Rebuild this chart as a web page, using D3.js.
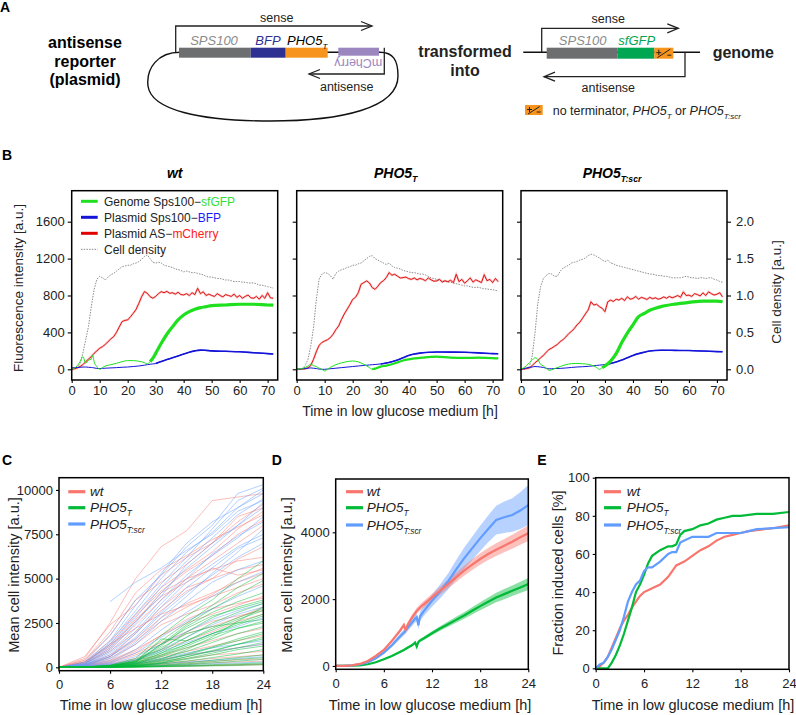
<!DOCTYPE html>
<html><head><meta charset="utf-8">
<script src="https://cdn.jsdelivr.net/npm/d3@7"></script>
<style>body{margin:0;background:#fff} svg{display:block} text{font-family:"Liberation Sans",Arial,sans-serif}</style>
</head><body><svg id="c" width="796" height="715"></svg>
<script>
// ---------------- DATA ----------------
// Panel B (time in h, hourly for noisy series; key times for smooth)
const hoursB = d3.range(0, 73);
const tKey = [0,2,3,4,5,6,7,7.5,8,9,10,11,12,14,16,18,20,22,24,26,27,28,29,30,32,34,36,38,40,42,44,46,48,50,55,60,65,70,72];
const strainsB = ["wt", "PHO5_T", "PHO5_T:scr"];
const mCherryWt = [0,5,15,30,50,83,110,137,173,200,228,245,270,300,330,354,400,460,517,530,535,570,607,650,715,788,842,824,788,770,790,820,842,830,845,824,830,815,835,810,806,820,800,830,810,878,820,840,800,815,800,790,820,800,785,810,800,790,815,780,800,770,790,805,775,770,790,760,800,770,830,775,770];
const mCherryPho5 = [0,2,3,5,15,40,108,190,260,290,307,320,343,380,430,470,540,600,650,700,758,780,830,921,940,958,935,885,867,900,940,960,994,1048,1020,1030,1010,990,994,1000,983,975,990,970,985,976,960,990,970,955,958,975,945,960,950,965,940,1030,950,975,933,960,990,945,970,955,940,1025,960,975,940,985,950];
const mCherryScr = [0,3,8,15,40,71,95,125,150,185,214,230,250,270,300,321,350,385,411,440,482,510,554,600,643,732,696,705,679,661,625,732,750,735,760,750,770,745,786,760,768,790,760,780,770,757,780,765,775,760,768,785,770,790,775,786,800,780,839,800,804,790,820,810,795,829,800,840,820,805,814,830,786];
const densityWt = [0,0.01,0.02,0.08,0.22,0.40,0.58,0.85,1.08,1.22,1.26,1.24,1.21,1.25,1.28,1.30,1.33,1.36,1.39,1.40,1.41,1.41,1.43,1.44,1.46,1.49,1.53,1.55,1.50,1.45,1.44,1.45,1.44,1.41,1.40,1.39,1.38,1.36,1.35,1.34,1.32,1.33,1.32,1.31,1.31,1.30,1.29,1.28,1.26,1.25,1.25,1.24,1.23,1.23,1.22,1.21,1.21,1.20,1.19,1.19,1.19,1.18,1.18,1.17,1.17,1.17,1.16,1.14,1.14,1.13,1.12,1.11,1.10];
const densityPho5 = [0,0,0.01,0.05,0.13,0.31,0.56,0.94,1.22,1.29,1.31,1.30,1.27,1.22,1.30,1.33,1.35,1.36,1.38,1.39,1.41,1.41,1.43,1.44,1.47,1.50,1.53,1.54,1.50,1.48,1.46,1.44,1.42,1.44,1.40,1.38,1.37,1.36,1.34,1.33,1.32,1.31,1.31,1.30,1.29,1.29,1.28,1.26,1.24,1.23,1.22,1.21,1.20,1.19,1.18,1.18,1.17,1.16,1.15,1.14,1.13,1.13,1.12,1.11,1.11,1.11,1.10,1.09,1.09,1.08,1.08,1.07,1.06];
const densityScr = [0,0,0.01,0.04,0.18,0.49,0.89,1.12,1.23,1.27,1.30,1.29,1.26,1.26,1.33,1.37,1.39,1.41,1.44,1.45,1.46,1.48,1.49,1.51,1.54,1.56,1.55,1.53,1.51,1.48,1.46,1.48,1.44,1.43,1.41,1.40,1.39,1.38,1.37,1.36,1.35,1.34,1.33,1.32,1.31,1.30,1.29,1.29,1.28,1.27,1.27,1.26,1.26,1.25,1.24,1.24,1.24,1.24,1.25,1.26,1.25,1.24,1.24,1.23,1.24,1.24,1.23,1.24,1.24,1.22,1.21,1.19,1.18];
const sfgfpWt = [0,40,83,137,65,100,110,155,83,29,0,20,36,50,65,83,94,94,87,72,58,83,120,173,282,380,460,535,589,625,650,668,679,690,697,705,705,697,695];
const sfgfpPho5 = [0,10,20,35,54,40,29,20,12,0,-18,0,20,50,70,83,90,80,54,18,0,7,18,29,40,55,75,95,108,118,124,130,134,137,126,123,126,122,118];
const sfgfpScr = [0,40,71,100,125,107,54,45,36,10,-11,-5,7,30,50,61,64,60,54,36,20,0,18,36,89,170,290,393,482,571,605,640,661,679,707,725,739,739,732];
const bfpWt = [15,20,22,24,25,22,20,18,15,10,8,10,12,15,18,22,25,30,36,45,50,55,58,62,85,105,125,145,165,185,200,208,205,200,195,190,180,170,165];
const bfpPho5 = [0,5,8,12,15,12,8,5,3,0,0,3,6,12,18,24,30,36,42,47,50,52,55,58,68,82,100,125,150,165,175,182,185,187,186,184,178,170,168];
const bfpScr = [0,15,20,25,30,28,25,22,20,12,5,6,8,10,14,20,25,28,32,38,42,45,48,50,62,80,100,125,150,170,185,198,204,207,205,203,198,192,190];
const sfgfpInductionStart = [28, 27, 29];
const fluorTicks = [0, 400, 800, 1200, 1600];
const densityTicks = [0, 0.5, 1.0, 1.5, 2.0];
const timeTicksB = [0, 10, 20, 30, 40, 50, 60, 70];

// Panel C: single-cell traces
const hoursC = [0, 3, 6, 9, 12, 15, 18, 21, 24];
const cellsWt = [
  [0,500,2500,5000,6800,7700,9400,9600,9800],
  [0,400,1800,3800,4800,5800,7000,8500,9000],
  [0,300,1500,3000,4500,5500,6500,7800,8800],
  [0,300,1200,2600,4200,5000,6000,7000,8000],
  [0,200,1000,2400,3800,5000,5500,6000,6200],
  [0,200,900,2000,3200,4300,5000,5500,5800],
  [0,150,700,1600,2800,3600,4200,4800,5300],
  [0,100,500,1300,2400,3000,3500,4200,4700],
  [0,100,400,1000,1800,2500,3000,3500,4000],
  [0,80,300,800,1400,2000,2600,2900,3200],
  [0,50,200,500,1000,1500,2000,2600,3000],
  [0,50,150,400,700,1100,1500,1900,2200],
  [0,40,100,250,450,700,900,1100,1300],
  [0,30,80,150,250,350,500,600,700],
  [0,20,50,100,150,200,250,300,350],
  [0,10,30,60,80,100,120,150,180],
  [0,600,2400,3500,5200,6200,7000,8200,9200],
  [0,200,1100,2700,4000,4800,5600,5200,5500],
  [0,300,1300,2200,3000,3500,4000,4500,5000],
  [0,100,600,1900,3400,4500,5000,6100,6800],
  [0,60,250,700,1300,1900,2300,2800,3400],
  [0,20,60,120,200,280,350,420,480],
  [0,40,120,300,600,900,1200,1500,1800],
  [0,150,600,1500,2600,3400,4100,5000,5600],
  [0,250,1300,2900,4300,5400,6300,7500,8300],
  [0,400,2000,4200,5500,6300,7200,7900,8600],
  [0,30,90,200,350,500,700,800,900],
  [0,100,350,900,1800,2700,3300,3600,3900],
  [0,10,20,40,60,80,100,120,150]
];
const cellsPho5 = [
  [0,20,100,400,1500,2500,3500,4500,5300],
  [0,20,100,350,1200,2300,3100,3700,4200],
  [0,15,80,300,1000,2000,2800,3400,3800],
  [0,10,70,250,900,1700,2500,3100,3600],
  [0,10,60,200,800,1500,2200,2800,3300],
  [0,10,50,180,700,1300,1900,2500,3000],
  [0,10,40,150,600,1100,1600,2200,2600],
  [0,5,30,120,500,900,1400,1900,2300],
  [0,5,30,100,400,750,1150,1600,2000],
  [0,5,20,80,300,600,900,1300,1600],
  [0,5,20,60,250,450,700,1000,1200],
  [0,5,15,50,180,350,550,750,1000],
  [0,5,10,40,120,250,400,550,700],
  [0,0,10,30,80,150,250,350,450],
  [0,0,5,20,50,100,150,200,250],
  [0,0,5,10,30,50,80,100,150],
  [0,20,120,500,1800,2900,3800,5000,6000],
  [0,10,80,300,1600,1500,2100,2700,3200],
  [0,15,90,320,1100,1900,2300,2500,2700],
  [0,8,40,140,450,1000,1700,2600,3400],
  [0,12,70,260,1300,2200,2900,3300,3700],
  [0,5,25,90,350,700,1100,1500,1900],
  [0,5,15,60,220,500,800,1100,1400],
  [0,3,10,30,90,200,320,450,550],
  [0,10,60,220,800,1300,1900,2400,2900],
  [0,15,90,350,1300,2400,3300,4100,4900],
  [0,2,8,20,40,70,110,150,200],
  [0,8,50,180,650,1200,1800,2200,2500],
  [0,4,20,70,250,600,950,1300,1700]
];
const cellsScr = [
  [null,null,3700,4800,5600,6600,7500,8800,9400],
  [0,300,1800,3800,5200,6800,8000,9800,10300],
  [0,200,1400,3200,5000,6500,7600,9000,10000],
  [0,200,1200,2800,4500,6000,7300,8600,9500],
  [0,150,1000,2500,4200,5600,6800,8000,9300],
  [0,100,900,2200,3800,5200,6300,7300,8500],
  [0,100,700,1900,3400,4800,5800,6800,7500],
  [0,80,600,1600,3000,4200,5200,6200,7000],
  [0,60,400,1300,2600,3700,4800,5500,6000],
  [0,50,300,1000,2100,3100,4000,4800,5400],
  [0,40,250,800,1700,2600,3300,4000,4600],
  [0,30,200,600,1300,2000,2700,3200,3600],
  [0,20,150,400,900,1400,1900,2300,2800],
  [0,20,100,250,500,800,1100,1300,1500],
  [0,10,50,100,200,300,400,500,600],
  [0,250,1500,3500,5300,7000,8200,9000,9800],
  [0,150,1100,2600,4000,5800,7000,8000,9000],
  [0,10,30,60,100,150,200,250,300],
  [0,120,800,2000,3600,5000,6400,7400,8200],
  [0,70,500,1400,2800,4000,5300,6500,7800],
  [0,30,150,450,1000,1700,2400,3000,3400],
  [0,200,1300,3000,4700,6200,7800,9400,10100],
  [0,15,80,200,400,700,900,1100,1300],
  [0,90,600,1700,3100,4500,5600,6700,7300]
];
const intensityTicksC = [0, 2500, 5000, 7500, 10000];
const timeTicksCDE = [0, 6, 12, 18, 24];

// Panel D: mean intensity with error bands
const hoursD = [0,1,2,3,4,5,6,7,8,8.5,8.7,9,9.5,9.9,10.1,10.3,10.5,11,12,13,14,15,16,17,18,19,20,21,22,23,24];
const meanWt = [0,5,20,60,150,300,480,750,1050,1226,1077,1250,1450,1580,1650,1700,1750,1850,2050,2250,2450,2650,2850,3030,3200,3350,3480,3600,3720,3850,3970];
const meanPho5 = [0,2,8,20,50,110,200,300,420,480,510,550,620,700,580,720,760,830,980,1120,1250,1380,1510,1650,1790,1920,2050,2150,2250,2350,2450];
const meanScr = [0,5,15,45,110,230,400,620,880,1000,1060,1150,1300,1420,1460,1220,1480,1650,1950,2230,2530,2880,3220,3520,3819,4100,4367,4450,4516,4650,4816];
const errWt = [0,2,5,10,20,30,40,50,60,65,65,70,80,90,90,90,95,100,110,120,130,140,150,160,170,180,190,200,210,220,230];
const errPho5 = [0,2,4,6,10,15,20,25,30,32,33,35,38,40,42,45,48,50,60,70,80,90,100,110,120,130,140,150,160,170,180];
const errScr = [0,3,6,12,20,30,45,60,80,90,95,100,110,120,125,130,135,150,180,210,240,280,320,350,380,400,430,470,500,550,600];
const intensityTicksD = [0, 2000, 4000];

// Panel E: fraction induced cells
const hoursE = [0,0.5,1,1.5,2,2.5,3,3.5,4,4.5,5,5.5,6,6.5,7,8,9,9.5,10,10.5,11,12,13,14,15,16,17,18,19,20,22,24];
const inducedWt = [0,1,3,6,11,16,21,25,28,32,35,38,40,41,42,44,48,51,54,55,56,59,62,64,67,69,70,71,72,72.5,73.5,75];
const inducedPho5 = [0,0,0,0,3,7,12,18,25,32,40,44,49,55,59,62,64,64,65,70,72,73,75,76,78,79,80,80,80.5,81,81,82];
const inducedScr = [0,2,3,6,10,15,20,27,35,40,44,46,51,53,53,56,60,61,61,66,67,69,69,69,71,71,71,71,72,73,73.5,74];
const fractionTicks = [0, 20, 40, 60, 80, 100];

// ---------------- DRAW ----------------
const svg = d3.select("#c");
const FONT = '"Liberation Sans",Arial,sans-serif';
const colB = {green:"#1ee01e", blue:"#1414d8", red:"#e00000", gray:"#8c8c8c"};
const colS = {wt:"#F8766D", pho5:"#00BA38", scr:"#619CFF"};

function txt(g, x, y, s, o = {}) {
  const t = g.append("text").attr("x", x).attr("y", y).text(s)
    .attr("font-size", o.size || 13).attr("fill", o.fill || "#000")
    .attr("text-anchor", o.anchor || "start");
  if (o.weight) t.attr("font-weight", o.weight);
  if (o.italic) t.attr("font-style", "italic");
  if (o.transform) t.attr("transform", o.transform);
  return t;
}
function pho(g, x, y, sub, o = {}) {
  const t = g.append("text").attr("x", x).attr("y", y)
    .attr("font-size", o.size || 13).attr("fill", o.fill || "#000")
    .attr("text-anchor", o.anchor || "start").attr("font-style", "italic");
  if (o.weight) t.attr("font-weight", o.weight);
  t.append("tspan").text("PHO5");
  t.append("tspan").text(sub).attr("font-size", (o.size || 13) * 0.62).attr("dy", (o.size || 13) * 0.3);
  return t;
}
function styleAxis(g, fs) {
  g.select(".domain").remove();
  g.selectAll("line").attr("stroke", "#000").attr("stroke-width", 1.1);
  g.selectAll("text").attr("font-size", fs || 13).attr("fill", "#222").attr("font-family", FONT);
}

// ===== Panel A =====
const A = svg.append("g");
txt(A, 0, 12, "A", {size: 14, weight: "bold"});
["antisense", "reporter", "(plasmid)"].forEach((s, i) => txt(A, 85, 48 + i * 18.5, s, {size: 16, weight: "bold", anchor: "middle"}));
A.append("path").attr("d", "M180,52.3 C158,52.3 146,68 148,86 C151,110 200,121 270,121 C342,121 398,108 398,76 C398,60 393,52.3 380,52.3 L327,52.3")
  .attr("fill", "none").attr("stroke", "#111").attr("stroke-width", 1.4);
A.append("rect").attr("x", 179).attr("y", 47.7).attr("width", 71.7).attr("height", 10).attr("fill", "#6d6e70");
A.append("rect").attr("x", 250.7).attr("y", 47.7).attr("width", 35).attr("height", 10).attr("fill", "#2e3192");
A.append("rect").attr("x", 285.7).attr("y", 47.7).attr("width", 42).attr("height", 10).attr("fill", "#f7941d");
A.append("rect").attr("x", 338.3).attr("y", 47.7).attr("width", 40.7).attr("height", 8).attr("fill", "#9b86c0");
A.append("path").attr("d", "M175.7,52.3 V26 H372").attr("fill", "none").attr("stroke", "#222").attr("stroke-width", 1.3);
A.append("path").attr("d", "M361,21.5 L372,26 L361,30.5").attr("fill", "none").attr("stroke", "#222").attr("stroke-width", 1.3);
A.append("path").attr("d", "M384.3,47.7 V74 H309").attr("fill", "none").attr("stroke", "#222").attr("stroke-width", 1.3);
A.append("path").attr("d", "M320,69.5 L309,74 L320,78.5").attr("fill", "none").attr("stroke", "#222").attr("stroke-width", 1.3);
txt(A, 276.7, 22, "sense", {size: 12.5, anchor: "middle", fill: "#222"});
txt(A, 346.7, 91, "antisense", {size: 12.5, anchor: "middle", fill: "#222"});
txt(A, 214, 45, "SPS100", {size: 13, anchor: "middle", fill: "#8a8a8a", italic: true});
txt(A, 268, 45, "BFP", {size: 13, anchor: "middle", fill: "#2e3192", italic: true});
pho(A, 287, 45, "T", {size: 13});
txt(A, 358.3, 63, "mCherry", {size: 12.5, anchor: "middle", fill: "#9b86c0", transform: "rotate(180,358.3,63) translate(0,4)"});
txt(A, 465, 57, "transformed", {size: 16, weight: "bold", anchor: "middle", fill: "#222"});
txt(A, 465, 76, "into", {size: 16, weight: "bold", anchor: "middle", fill: "#222"});
A.append("line").attr("x1", 523.3).attr("x2", 700).attr("y1", 52.3).attr("y2", 52.3).attr("stroke", "#111").attr("stroke-width", 1.4);
A.append("rect").attr("x", 546.7).attr("y", 47.7).attr("width", 71).attr("height", 11).attr("fill", "#6d6e70");
A.append("rect").attr("x", 617.7).attr("y", 47.7).attr("width", 36.6).attr("height", 11).attr("fill", "#00a651");
A.append("rect").attr("x", 654.3).attr("y", 47.7).attr("width", 19).attr("height", 11).attr("fill", "#f7941d");
function termSym(g, x, y, w, h) {
  g.append("path").attr("d", `M${x+2},${y+h/2-0.5} H${x+7} M${x+4.5},${y+2} V${y+h/2+2} M${x+w-6},${y+h/2+2} H${x+w-2} M${x+3},${y+h-1} L${x+w-3},${y+1.5}`)
    .attr("stroke", "#222").attr("stroke-width", 1).attr("fill", "none");
}
termSym(A, 654.3, 47.7, 19, 11);
A.append("path").attr("d", "M541.7,52.3 V28.3 H678.3").attr("fill", "none").attr("stroke", "#222").attr("stroke-width", 1.3);
A.append("path").attr("d", "M667.3,23.8 L678.3,28.3 L667.3,32.8").attr("fill", "none").attr("stroke", "#222").attr("stroke-width", 1.3);
A.append("path").attr("d", "M685,52.3 V76.7 H544").attr("fill", "none").attr("stroke", "#222").attr("stroke-width", 1.3);
A.append("path").attr("d", "M555,72.2 L544,76.7 L555,81.2").attr("fill", "none").attr("stroke", "#222").attr("stroke-width", 1.3);
txt(A, 608.3, 23, "sense", {size: 12.5, anchor: "middle", fill: "#222"});
txt(A, 608.3, 92, "antisense", {size: 12.5, anchor: "middle", fill: "#222"});
txt(A, 582.7, 45, "SPS100", {size: 13, anchor: "middle", fill: "#8a8a8a", italic: true});
txt(A, 636.7, 45, "sfGFP", {size: 13, anchor: "middle", fill: "#00a651", italic: true});
txt(A, 743.3, 58, "genome", {size: 16, weight: "bold", anchor: "middle", fill: "#222"});
A.append("rect").attr("x", 525).attr("y", 105).attr("width", 17.7).attr("height", 10).attr("fill", "#f7941d");
termSym(A, 525, 105, 17.7, 10);
{
  const t = A.append("text").attr("x", 552.7).attr("y", 115).attr("font-size", 12.5).attr("fill", "#222");
  t.append("tspan").text("no terminator, ");
  t.append("tspan").text("PHO5").attr("font-style", "italic");
  t.append("tspan").text("T").attr("font-style", "italic").attr("font-size", 8).attr("dy", 3.5);
  t.append("tspan").text(" or ").attr("dy", -3.5);
  t.append("tspan").text("PHO5").attr("font-style", "italic");
  t.append("tspan").text("T:scr").attr("font-style", "italic").attr("font-size", 8).attr("dy", 3.5);
}

// ===== Panel B =====
txt(svg, 2, 160, "B", {size: 14, weight: "bold"});
const bLeft = [71.7, 296.7, 521];
const bW = 206, bTop = 190.7, bBot = 380;
const yB = d3.scaleLinear().domain([-116, 1936]).range([bBot, bTop]);
const yDens = d3.scaleLinear().domain([-116 / 800, 1936 / 800]).range([bBot, bTop]);
const seriesB = [
  {red: mCherryWt, gray: densityWt, green: sfgfpWt, blue: bfpWt},
  {red: mCherryPho5, gray: densityPho5, green: sfgfpPho5, blue: bfpPho5},
  {red: mCherryScr, gray: densityScr, green: sfgfpScr, blue: bfpScr}
];
strainsB.forEach((st, i) => {
  const x = d3.scaleLinear().domain([0, 73.6]).range([bLeft[i], bLeft[i] + bW]);
  const g = svg.append("g");
  const clipId = "clipB" + i;
  g.append("clipPath").attr("id", clipId).append("rect").attr("x", bLeft[i]).attr("y", bTop).attr("width", bW).attr("height", bBot - bTop);
  const pg = g.append("g").attr("clip-path", `url(#${clipId})`);
  const s = seriesB[i];
  const lineH = (arr, sc) => d3.line().x((d, k) => x(hoursB[k])).y(d => sc(d))(arr);
  const lineK = d3.line().x(d => x(d[0])).y(d => yB(d[1])).curve(d3.curveMonotoneX);
  pg.append("path").attr("d", lineH(s.gray, yDens)).attr("fill", "none").attr("stroke", colB.gray).attr("stroke-width", 1).attr("stroke-dasharray", "1.5,1.2");
  pg.append("path").attr("d", lineH(s.red, yB)).attr("fill", "none").attr("stroke", "#f08080").attr("stroke-width", 2.2).attr("opacity", 0.45);
  pg.append("path").attr("d", lineH(s.red, yB)).attr("fill", "none").attr("stroke", colB.red).attr("stroke-width", 0.9);
  const bl = tKey.map((t, k) => [t, s.blue[k]]);
  pg.append("path").attr("d", lineK(bl)).attr("fill", "none").attr("stroke", colB.blue).attr("stroke-width", 1);
  pg.append("path").attr("d", lineK(bl.filter(d => d[0] >= 30))).attr("fill", "none").attr("stroke", colB.blue).attr("stroke-width", 1.6);
  const gr = tKey.map((t, k) => [t, s.green[k]]);
  pg.append("path").attr("d", lineK(gr)).attr("fill", "none").attr("stroke", colB.green).attr("stroke-width", 1);
  pg.append("path").attr("d", lineK(gr.filter(d => d[0] >= sfgfpInductionStart[i]))).attr("fill", "none").attr("stroke", colB.green).attr("stroke-width", i === 1 ? 2.2 : 3.2);
  const ax = g.append("g").attr("transform", `translate(0,${bBot})`)
    .call(d3.axisBottom(x).tickValues(timeTicksB).tickSize(3).tickPadding(3).tickFormat(d3.format("d")));
  styleAxis(ax, 13);
  const ay = g.append("g").attr("transform", `translate(${bLeft[i]},0)`)
    .call(d3.axisLeft(yB).tickValues(fluorTicks).tickSize(4).tickPadding(3).tickFormat(i === 0 ? d3.format("d") : () => ""));
  styleAxis(ay, 13);
  if (i === 2) {
    const ar = g.append("g").attr("transform", `translate(${bLeft[i] + bW},0)`)
      .call(d3.axisRight(yDens).tickValues(densityTicks).tickSize(4).tickPadding(5).tickFormat(d3.format(".1f")));
    styleAxis(ar, 13);
  }
  g.append("rect").attr("x", bLeft[i]).attr("y", bTop).attr("width", bW).attr("height", bBot - bTop)
    .attr("fill", "none").attr("stroke", "#000").attr("stroke-width", 1.5);
  const cx = bLeft[i] + bW / 2;
  if (st === "wt") txt(g, cx, 178, "wt", {size: 14, weight: "bold", italic: true, anchor: "middle"});
  else pho(g, cx - (st === "PHO5_T" ? 4 : 12), 178, st === "PHO5_T" ? "T" : "T:scr", {size: 14, weight: "bold", anchor: "middle"});
});
{
  const L = svg.append("g");
  const rows = [
    {c: colB.green, a: "Genome Sps100\u2212", b: "sfGFP"},
    {c: colB.blue, a: "Plasmid Sps100\u2212", b: "BFP"},
    {c: colB.red, a: "Plasmid AS\u2212", b: "mCherry"},
    {c: colB.gray, a: "Cell density", b: "", dash: true}
  ];
  const bcol = ["#33dd33", "#1a1aff", "#ff1a1a", ""];
  rows.forEach((r, k) => {
    const y = 201.3 + k * 16;
    L.append("line").attr("x1", 81).attr("x2", 97.7).attr("y1", y).attr("y2", y)
      .attr("stroke", r.c).attr("stroke-width", r.dash ? 1 : 3).attr("stroke-dasharray", r.dash ? "1.5,1.2" : null);
    const t = L.append("text").attr("x", 104).attr("y", y + 4.3).attr("font-size", 12).attr("fill", "#222");
    t.append("tspan").text(r.a);
    if (r.b) t.append("tspan").text(r.b).attr("fill", bcol[k]);
  });
}
txt(svg, 18.3, 288, "Fluorescence intensity [a.u.]", {size: 13.5, anchor: "middle", fill: "#222", transform: "rotate(-90,18.3,288) translate(0,4.5)"});
txt(svg, 776.7, 292, "Cell density [a.u.]", {size: 13.5, anchor: "middle", fill: "#222", transform: "rotate(-90,776.7,292) translate(0,4.5)"});
txt(svg, 400, 416, "Time in low glucose medium [h]", {size: 14, anchor: "middle", fill: "#222"});

// ===== Panels C, D, E shared helpers =====
function framePanel(g, x, y, xT, yT, yFmt) {
  const [x0, x1] = x.range(), [y0, y1] = y.range();
  const ax = g.append("g").attr("transform", `translate(0,${y0})`)
    .call(d3.axisBottom(x).tickValues(xT).tickSize(3).tickPadding(6).tickFormat(d3.format("d")));
  styleAxis(ax, 13);
  const ay = g.append("g").attr("transform", `translate(${x0},0)`)
    .call(d3.axisLeft(y).tickValues(yT).tickSize(3).tickPadding(3).tickFormat(yFmt || d3.format("d")));
  styleAxis(ay, 13);
  g.append("rect").attr("x", x0).attr("y", y1).attr("width", x1 - x0).attr("height", y0 - y1)
    .attr("fill", "none").attr("stroke", "#000").attr("stroke-width", 1.5);
}
function clip(g, id, x, y) {
  const [x0, x1] = x.range(), [y0, y1] = y.range();
  g.append("clipPath").attr("id", id).append("rect").attr("x", x0).attr("y", y1).attr("width", x1 - x0).attr("height", y0 - y1);
  return g.append("g").attr("clip-path", `url(#${id})`);
}
function legendCDE(g, x1, xText, ys) {
  const items = [{c: colS.wt, l: "wt"}, {c: colS.pho5, l: "T"}, {c: colS.scr, l: "T:scr"}];
  items.forEach((it, k) => {
    g.append("line").attr("x1", x1).attr("x2", x1 + 17).attr("y1", ys[k]).attr("y2", ys[k]).attr("stroke", it.c).attr("stroke-width", 3.2);
    if (k === 0) txt(g, xText, ys[k] + 4.5, "wt", {size: 13.5, italic: true, fill: "#222"});
    else pho(g, xText, ys[k] + 4.5, it.l, {size: 13.5, fill: "#222"});
  });
}
const titleX = "Time in low glucose medium [h]";

// ===== Panel C =====
{
  const g = svg.append("g");
  txt(g, 2, 465, "C", {size: 14, weight: "bold"});
  const x = d3.scaleLinear().domain([0, 24]).range([59, 263.3]);
  const y = d3.scaleLinear().domain([-190, 10690]).range([670.7, 477.7]);
  const pg = clip(g, "clipC", x, y);
  const ln = d3.line().defined(d => d[1] !== null).x(d => x(d[0])).y(d => y(d[1]));
  [[cellsWt, colS.wt], [cellsScr, colS.scr], [cellsPho5, colS.pho5]].forEach(([set, c]) => {
    set.forEach(tr => {
      pg.append("path").attr("d", ln(hoursC.map((t, k) => [t, tr[k]]))).attr("fill", "none")
        .attr("stroke", c).attr("stroke-width", 0.8).attr("opacity", 0.6);
    });
  });
  framePanel(g, x, y, timeTicksCDE, intensityTicksC);
  legendCDE(g, 68.3, 90, [491.7, 507.7, 524]);
  txt(g, 14, 575, "Mean cell intensity [a.u.]", {size: 14.5, anchor: "middle", fill: "#222", transform: "rotate(-90,14,575) translate(0,5)"});
  txt(g, 161, 710, titleX, {size: 14.5, anchor: "middle", fill: "#222"});
}

// ===== Panel D =====
{
  const g = svg.append("g");
  txt(g, 271.7, 465, "D", {size: 14, weight: "bold"});
  const x = d3.scaleLinear().domain([0, 24]).range([335.7, 528.3]);
  const y = d3.scaleLinear().domain([-100, 5595]).range([669.3, 479]);
  const pg = clip(g, "clipD", x, y);
  const sets = [[meanPho5, errPho5, colS.pho5], [meanScr, errScr, colS.scr], [meanWt, errWt, colS.wt]];
  sets.forEach(([m, e, c]) => {
    const area = d3.area().x((d, k) => x(hoursD[k])).y0((d, k) => y(m[k] - e[k])).y1((d, k) => y(m[k] + e[k]));
    pg.append("path").attr("d", area(m)).attr("fill", c).attr("opacity", 0.45);
  });
  sets.forEach(([m, e, c]) => {
    const line = d3.line().x((d, k) => x(hoursD[k])).y(d => y(d));
    pg.append("path").attr("d", line(m)).attr("fill", "none").attr("stroke", c).attr("stroke-width", 2.2);
  });
  framePanel(g, x, y, timeTicksCDE, intensityTicksD);
  legendCDE(g, 346, 366.7, [491.7, 507.7, 525]);
  txt(g, 286.7, 575, "Mean cell intensity [a.u.]", {size: 14.5, anchor: "middle", fill: "#222", transform: "rotate(-90,286.7,575) translate(0,5)"});
  txt(g, 430, 710, titleX, {size: 14.5, anchor: "middle", fill: "#222"});
}

// ===== Panel E =====
{
  const g = svg.append("g");
  txt(g, 537.3, 465, "E", {size: 14, weight: "bold"});
  const x = d3.scaleLinear().domain([0, 24]).range([595.7, 789]);
  const y = d3.scaleLinear().domain([-0.5, 100]).range([669.3, 477.7]);
  const pg = clip(g, "clipE", x, y);
  const line = d3.line().x((d, k) => x(hoursE[k])).y(d => y(d));
  [[inducedWt, colS.wt], [inducedPho5, colS.pho5], [inducedScr, colS.scr]].forEach(([v, c]) => {
    pg.append("path").attr("d", line(v)).attr("fill", "none").attr("stroke", c).attr("stroke-width", 2.2);
  });
  framePanel(g, x, y, timeTicksCDE, fractionTicks);
  legendCDE(g, 604, 626.7, [491.7, 507.7, 525]);
  txt(g, 558.3, 573, "Fraction induced cells [%]", {size: 14.5, anchor: "middle", fill: "#222", transform: "rotate(-90,558.3,573) translate(0,5)"});
  txt(g, 693, 710, titleX, {size: 14.5, anchor: "middle", fill: "#222"});
}
</script></body></html>
